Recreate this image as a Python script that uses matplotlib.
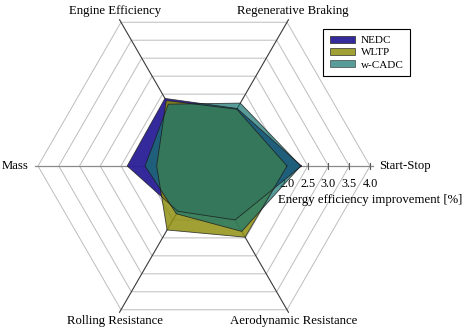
import numpy as np
import matplotlib
matplotlib.use("Agg")
import matplotlib.pyplot as plt
from matplotlib.patches import Patch

plt.rcParams["font.family"] = ["Liberation Serif", "DejaVu Serif"]

# axes of the radar, counter-clockwise from the right
categories = ["Start-Stop", "Regenerative Braking", "Engine Efficiency",
              "Mass", "Rolling Resistance", "Aerodynamic Resistance"]
angles_deg = [0, 60, 120, 180, 240, 300]

# energy efficiency improvement [%] per drive cycle
series_names = ["NEDC", "WLTP", "w-CADC"]
nedc = [2.35, 1.60, 1.88, 1.85, 1.26, 1.50]
wltp = [2.00, 1.58, 1.82, 1.14, 1.78, 1.98]
wcadc = [2.33, 1.75, 1.72, 1.42, 1.33, 1.82]

tick_values = [0.0, 0.5, 1.0, 1.5, 2.0, 2.5, 3.0, 3.5, 4.0]
axis_title = "Energy efficiency improvement [%]"

colors = ["#2a1e96", "#8f8f10", "#177570"]
alphas = [0.95, 0.85, 0.72]

PX = 41.5  # pixels per unit, picture is drawn on a 1:1 data grid

fig = plt.figure(figsize=(4.64, 3.36), dpi=100)
ax = fig.add_axes([0, 0, 1, 1])
ax.set_xlim(-204 / PX, 260 / PX)
ax.set_ylim(-170 / PX, 166 / PX)
ax.axis("off")

ang = np.deg2rad(angles_deg)
ang_closed = np.append(ang, ang[0])

# hexagonal grid rings
for r in tick_values[1:]:
    ax.plot(r * np.cos(ang_closed), r * np.sin(ang_closed),
            color="#bdbdbd", lw=0.7, zorder=1)

# spokes
for a in ang:
    horizontal = abs(np.sin(a)) < 1e-9
    ax.plot([0, 4.07 * np.cos(a)], [0, 4.07 * np.sin(a)],
            color="#8a8a8a" if horizontal else "#3a3a3a",
            lw=0.9 if horizontal else 0.8, zorder=1.5)

# value axis ticks on Start-Stop
for v in tick_values[1:]:
    ax.plot([v, v], [-0.07, 0.07], color="#5a5a5a", lw=0.8, zorder=1.5)
    ax.text(v, -0.44, f"{v:.1f}", ha="center", va="center",
            fontsize=8.8, zorder=2)
ax.text(4.0, -0.82, axis_title, ha="center", va="center", fontsize=9.2, zorder=2)

# category labels
for name, a in zip(categories, ang):
    c, s = np.cos(a), np.sin(a)
    if abs(s) < 1e-9:
        ax.text(4.22 * c, 0.0, name, ha="left" if c > 0 else "right",
                va="center", fontsize=9.2)
    else:
        ax.text(4.3 * c, 4.3 * s, name, ha="center", va="center", fontsize=9.2)

# data polygons
handles = []
for vals, col, al, name in zip([nedc, wltp, wcadc], colors, alphas, series_names):
    v = np.append(vals, vals[0])
    ax.fill(v * np.cos(ang_closed), v * np.sin(ang_closed),
            facecolor=col, alpha=al, edgecolor="none", zorder=3)
    ax.plot(v * np.cos(ang_closed), v * np.sin(ang_closed),
            color="#1a1a1a", lw=0.6, alpha=0.8, zorder=3.1)
    handles.append(Patch(facecolor=col, alpha=al, edgecolor="#333333",
                         linewidth=0.6))

leg = fig.legend(handles, series_names, loc="upper left",
                 bbox_to_anchor=(323 / 464, 1 - 29 / 336),
                 frameon=True, fancybox=False, edgecolor="black",
                 framealpha=1, fontsize=8, handlelength=2.3,
                 handleheight=0.6, handletextpad=0.5, labelspacing=0.25,
                 borderpad=0.6, borderaxespad=0)
leg.get_frame().set_linewidth(0.8)

fig.savefig("out.png", dpi=100)
